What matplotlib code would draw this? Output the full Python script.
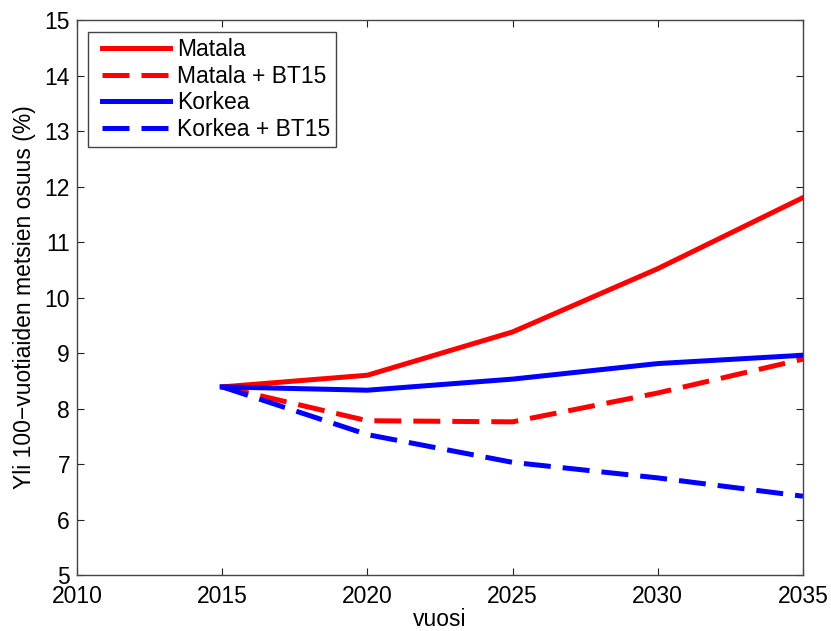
import matplotlib.pyplot as plt
from matplotlib.legend_handler import HandlerLine2D

plt.rcParams.update({
    "font.family": "sans-serif",
    "font.sans-serif": ["Liberation Sans", "DejaVu Sans"],
    "font.size": 16.5,
})

# Skenaariot, osuus (%) vuosittain
vuodet = [2015, 2020, 2025, 2030, 2035]
matala = [8.39, 8.60, 9.38, 10.52, 11.80]
matala_bt15 = [8.39, 7.78, 7.76, 8.28, 8.89]
korkea = [8.39, 8.33, 8.53, 8.81, 8.96]
korkea_bt15 = [8.39, 7.53, 7.03, 6.75, 6.42]

fig = plt.figure(figsize=(8.31, 6.31), dpi=100)
ax = fig.add_axes([0.0927, 0.0887, 0.8736, 0.8796])

lw = 3.6
dash = (0, (5.4, 2.4))
ax.plot(vuodet, matala, color="#ff0000", lw=lw, label="Matala")
ax.plot(vuodet, matala_bt15, color="#ff0000", lw=lw, linestyle=dash, label="Matala + BT15")
ax.plot(vuodet, korkea, color="#0000ff", lw=lw, label="Korkea")
ax.plot(vuodet, korkea_bt15, color="#0000ff", lw=lw, linestyle=dash, label="Korkea + BT15")

ax.set_xlim(2010, 2035)
ax.set_ylim(5, 15)
ax.set_xticks(range(2010, 2036, 5))
ax.set_yticks(range(5, 16))
ax.tick_params(direction="in", length=5, width=0.8, top=True, right=True,
               colors="#222222", labelcolor="black")
ax.tick_params(axis="x", pad=7)
ax.tick_params(axis="y", pad=5)
for s in ax.spines.values():
    s.set_color("#444444")
    s.set_linewidth(1.0)

ax.set_xlabel("vuosi", labelpad=0)
ax.set_ylabel("Yli 100\u2212vuotiaiden metsien osuus (%)", labelpad=6)

# viivanäyte hieman sisennettynä kehyksestä
leg = ax.legend(loc="upper left", bbox_to_anchor=(0.015, 0.978), borderaxespad=0,
                handlelength=3.33, handletextpad=0.3, labelspacing=0.16,
                borderpad=0.25, fancybox=False, framealpha=1,
                handler_map={plt.Line2D: HandlerLine2D(xpad=0.36)})
leg.get_frame().set_edgecolor("#444444")
leg.get_frame().set_linewidth(1.0)

fig.savefig("out.png", dpi=100)
